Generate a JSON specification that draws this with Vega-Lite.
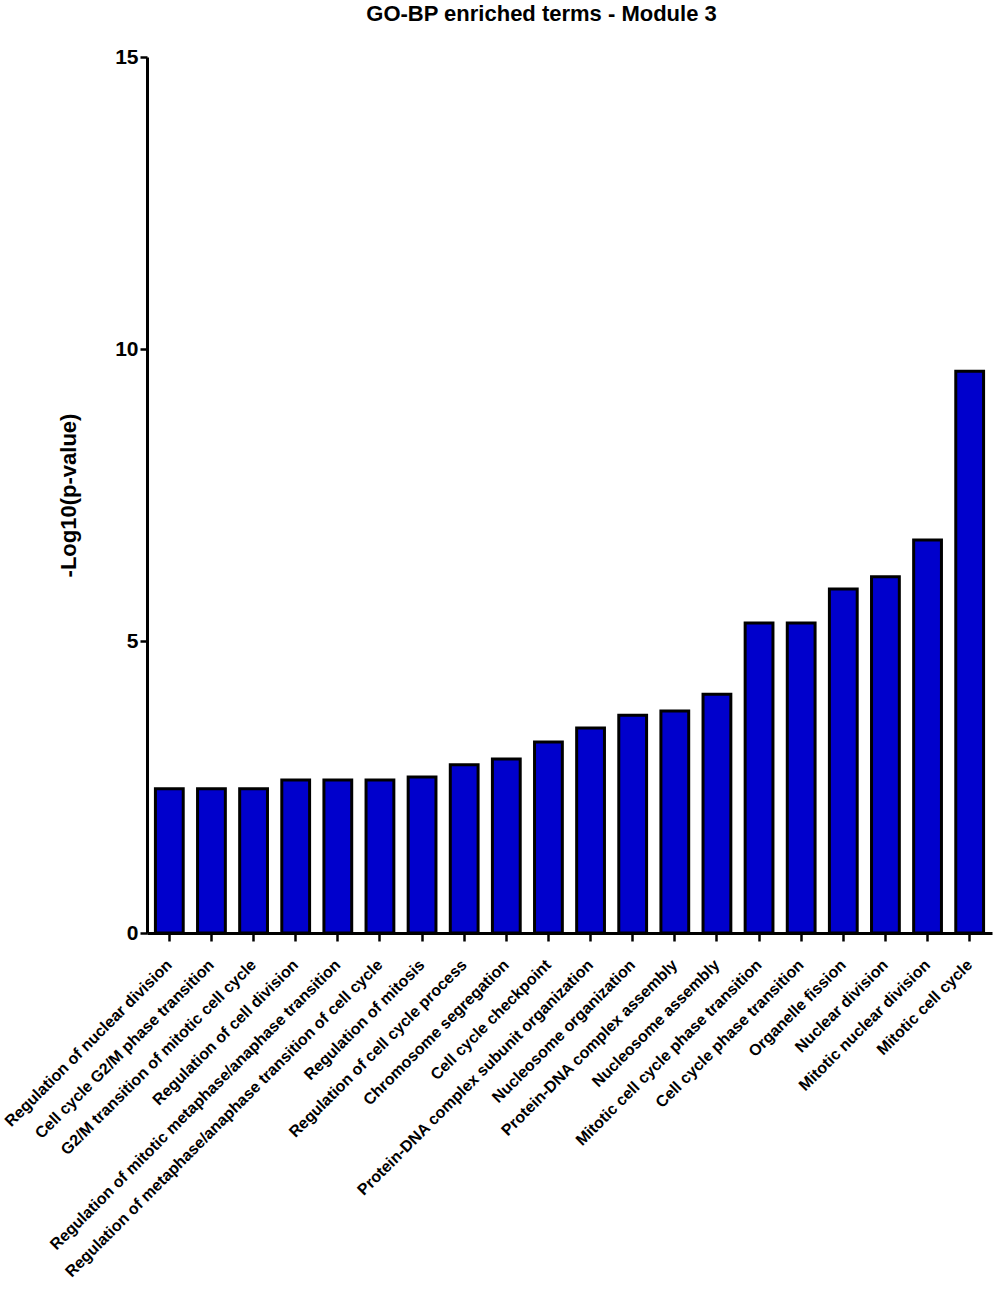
{
  "$schema": "https://vega.github.io/schema/vega-lite/v6.json",
  "width": 845,
  "height": 876,
  "autosize": {"type": "none"},
  "padding": {"left": 147, "top": 57, "right": 2, "bottom": 369},
  "background": "white",
  "title": {
    "text": "GO-BP enriched terms - Module 3",
    "font": "Liberation Sans",
    "fontSize": 22,
    "fontWeight": "bold",
    "color": "black",
    "offset": 20,
    "dx": -28
  },
  "data": {
    "values": [
      {"term": "Regulation of nuclear division", "value": 2.47},
      {"term": "Cell cycle G2/M phase transition", "value": 2.47},
      {"term": "G2/M transition of mitotic cell cycle", "value": 2.47},
      {"term": "Regulation of cell division", "value": 2.62},
      {"term": "Regulation of mitotic metaphase/anaphase transition", "value": 2.62},
      {"term": "Regulation of metaphase/anaphase transition of cell cycle", "value": 2.62},
      {"term": "Regulation of mitosis", "value": 2.67},
      {"term": "Regulation of cell cycle process", "value": 2.88},
      {"term": "Chromosome segregation", "value": 2.98},
      {"term": "Cell cycle checkpoint", "value": 3.27},
      {"term": "Protein-DNA complex subunit organization", "value": 3.51},
      {"term": "Nucleosome organization", "value": 3.73},
      {"term": "Protein-DNA complex assembly", "value": 3.8},
      {"term": "Nucleosome assembly", "value": 4.09},
      {"term": "Mitotic cell cycle phase transition", "value": 5.31},
      {"term": "Cell cycle phase transition", "value": 5.31},
      {"term": "Organelle fission", "value": 5.89},
      {"term": "Nuclear division", "value": 6.1},
      {"term": "Mitotic nuclear division", "value": 6.73},
      {"term": "Mitotic cell cycle", "value": 9.62}
    ]
  },
  "mark": {"type": "bar", "fill": "#0000CC", "stroke": "black", "strokeWidth": 3, "strokeJoin": "miter"},
  "encoding": {
    "x": {
      "field": "term",
      "type": "nominal",
      "sort": null,
      "scale": {"paddingInner": 0.34, "paddingOuter": 0.2},
      "axis": {
        "title": null,
        "labelAngle": -45,
        "labelAlign": "right",
        "labelBaseline": "middle",
        "labelFont": "Liberation Sans",
        "labelFontWeight": "bold",
        "labelFontSize": 16,
        "labelColor": "black",
        "labelPadding": 21,
        "labelLimit": 600,
        "labelOverlap": false,
        "domainColor": "black",
        "domainWidth": 3,
        "tickColor": "black",
        "tickWidth": 2.5,
        "tickSize": 8
      }
    },
    "y": {
      "field": "value",
      "type": "quantitative",
      "scale": {"domain": [0, 15], "nice": false},
      "axis": {
        "title": "-Log10(p-value)",
        "titleFont": "Liberation Sans",
        "titleFontWeight": "bold",
        "titleFontSize": 22,
        "titleColor": "black",
        "titlePadding": 34,
        "values": [0, 5, 10, 15],
        "labelFont": "Liberation Sans",
        "labelFontWeight": "bold",
        "labelFontSize": 21,
        "labelColor": "black",
        "labelPadding": 2,
        "grid": false,
        "domainColor": "black",
        "domainWidth": 3,
        "tickColor": "black",
        "tickWidth": 2.5,
        "tickSize": 7
      }
    }
  },
  "config": {"view": {"stroke": null}}
}
